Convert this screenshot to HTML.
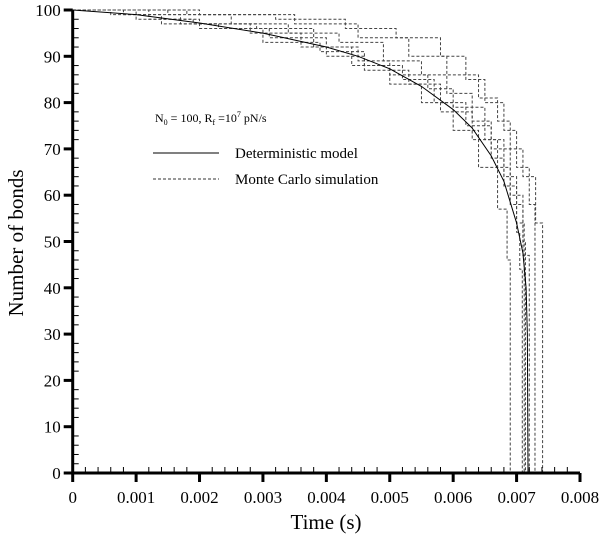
<!DOCTYPE html>
<html><head><meta charset="utf-8"><style>
html,body{margin:0;padding:0;background:#fff;}
svg{display:block;font-family:"Liberation Serif",serif;}
</style></head><body>
<svg id="chart" width="603" height="538" viewBox="0 0 603 538" xmlns="http://www.w3.org/2000/svg">
<g id="marks"></g>
<g id="axes"></g>
<text x="0" y="0" transform="translate(23,243) rotate(-90)" text-anchor="middle" font-size="21">Number of bonds</text>
<text x="326" y="529" text-anchor="middle" font-size="21">Time (s)</text>
<g>
<text x="155" y="122" font-size="12">N<tspan font-size="8" dy="3">0</tspan><tspan dy="-3"> = 100, R</tspan><tspan font-size="8" dy="3">f</tspan><tspan dy="-3"> =10</tspan><tspan font-size="8" dy="-5">7</tspan><tspan dy="5"> pN/s</tspan></text>
<line x1="153" y1="153" x2="219" y2="153" stroke="#000" stroke-width="1"/>
<text x="235" y="158" font-size="15">Deterministic model</text>
<line x1="153" y1="179" x2="219" y2="179" stroke="#333" stroke-width="1" stroke-dasharray="3,2"/>
<text x="235" y="184" font-size="15">Monte Carlo simulation</text>
</g>
</svg>
<script>
const xTicks = [0, 0.001, 0.002, 0.003, 0.004, 0.005, 0.006, 0.007, 0.008];
const xTickLabels = ["0", "0.001", "0.002", "0.003", "0.004", "0.005", "0.006", "0.007", "0.008"];
const yTicks = [0, 10, 20, 30, 40, 50, 60, 70, 80, 90, 100];
const yTickLabels = ["0", "10", "20", "30", "40", "50", "60", "70", "80", "90", "100"];
const detT = [0, 0.001, 0.002, 0.003, 0.004, 0.0045, 0.005, 0.0055, 0.006, 0.0063, 0.0066, 0.0068, 0.007, 0.0071, 0.00715, 0.00717, 0.00718];
const detN = [100, 99, 97.2, 95, 92, 90, 87.3, 83.5, 78.5, 74.5, 68.5, 63, 54, 47.5, 40, 30, 0];
const mcA = [[0,100],[0.0008,99],[0.0017,97],[0.0028,95],[0.0036,92],[0.0044,88],[0.005,84],[0.0055,80],[0.006,74],[0.0064,66],[0.0067,57],[0.00685,46],[0.0069,0]];
const mcB = [[0,100],[0.0012,98],[0.002,96],[0.003,93],[0.0039,91],[0.0046,88],[0.0052,85],[0.0057,80],[0.0062,75],[0.0066,68],[0.0068,62],[0.007,52],[0.00705,44],[0.00709,0]];
const mcC = [[0,100],[0.0015,99],[0.0025,97],[0.0034,95],[0.0042,93],[0.0049,89],[0.0055,86],[0.0059,82],[0.0063,76],[0.0066,70],[0.0069,60],[0.0071,50],[0.00714,0]];
const mcD = [[0,100],[0.0018,99],[0.0032,98],[0.0043,96],[0.0051,94],[0.0058,90],[0.0062,85],[0.0065,80],[0.0068,74],[0.007,66],[0.0072,58],[0.00729,0]];
const mcE = [[0,100],[0.002,99],[0.0035,97],[0.0045,94],[0.0053,90],[0.0059,86],[0.0064,81],[0.0067,76],[0.0069,70],[0.0071,64],[0.0073,54],[0.00741,0]];
const mcF = [[0,100],[0.0006,99],[0.0014,97],[0.0023,96],[0.0031,94],[0.004,90],[0.0046,87],[0.0053,84],[0.0058,78],[0.0063,72],[0.0067,66],[0.0069,58],[0.0071,47],[0.0072,0]];
const mcG = [[0,100],[0.001,98],[0.0019,97],[0.0029,96],[0.0038,92],[0.0045,89],[0.005,86],[0.0056,83],[0.006,79],[0.0065,72],[0.0068,64],[0.007,54],[0.00712,0]];
const mcRuns = [mcA, mcB, mcC, mcD, mcE, mcF, mcG];

const X0 = 72.7, X1 = 580, Y0 = 473, Y1 = 10;
function sx(t){ return X0 + (t - 0) / 0.008 * (X1 - X0); }
function sy(n){ return Y0 - n / 100 * (Y0 - Y1); }
const NS = "http://www.w3.org/2000/svg";
const marks = document.getElementById('marks');
const axes = document.getElementById('axes');
function mk(tag, attrs, parent){
  const e = document.createElementNS(NS, tag);
  for (const k in attrs) e.setAttribute(k, attrs[k]);
  parent.appendChild(e);
  return e;
}

mcRuns.forEach(function(run, i){
  let d = "M" + sx(run[0][0]) + "," + sy(run[0][1]);
  for (let j = 1; j < run.length; j++) {
    d += " L" + sx(run[j][0]) + "," + sy(run[j-1][1]) + " L" + sx(run[j][0]) + "," + sy(run[j][1]);
  }
  const p = mk('path', {d: d, fill: 'none', stroke: '#444', 'stroke-width': 1, 'stroke-dasharray': '3,2'}, marks);
  
  
});

let dd = "";
detT.forEach(function(t, i){ dd += (i ? " L" : "M") + sx(t) + "," + sy(detN[i]); });
const det = mk('path', {d: dd, fill: 'none', stroke: '#000', 'stroke-width': 1}, marks);



const yAxis = mk('line', {x1: X0, y1: Y1, x2: X0, y2: Y0 + 1.5, stroke: '#000', 'stroke-width': 3}, axes);


const xAxis = mk('line', {x1: X0 - 1.5, y1: Y0, x2: X1, y2: Y0, stroke: '#000', 'stroke-width': 3}, axes);



for (let v = 0; v <= 100.01; v += 2) {
  if (Math.round(v) % 10 !== 0) mk('line', {x1: X0, y1: sy(v), x2: X0 + 6, y2: sy(v), stroke: '#000', 'stroke-width': 1}, axes);
}
for (let k = 0; k <= 40; k++) {
  if (k % 5 !== 0) mk('line', {x1: sx(k * 0.0002), y1: Y0, x2: sx(k * 0.0002), y2: Y0 - 6, stroke: '#000', 'stroke-width': 1}, axes);
}
yTicks.forEach(function(v, i){
  const l = mk('line', {x1: X0 - 9, y1: sy(v), x2: X0, y2: sy(v), stroke: '#000', 'stroke-width': 3}, axes);
  
  
  const t = mk('text', {x: X0 - 12, y: sy(v) + 6, 'text-anchor': 'end', 'font-size': 17}, axes);
  t.textContent = yTickLabels[i];
  
  
});
xTicks.forEach(function(v, i){
  const l = mk('line', {x1: sx(v), y1: Y0, x2: sx(v), y2: Y0 + 9, stroke: '#000', 'stroke-width': 3}, axes);
  
  
  const t = mk('text', {x: sx(v), y: Y0 + 30, 'text-anchor': 'middle', 'font-size': 17}, axes);
  t.textContent = xTickLabels[i];
  
  
});
</script>
</body></html>
